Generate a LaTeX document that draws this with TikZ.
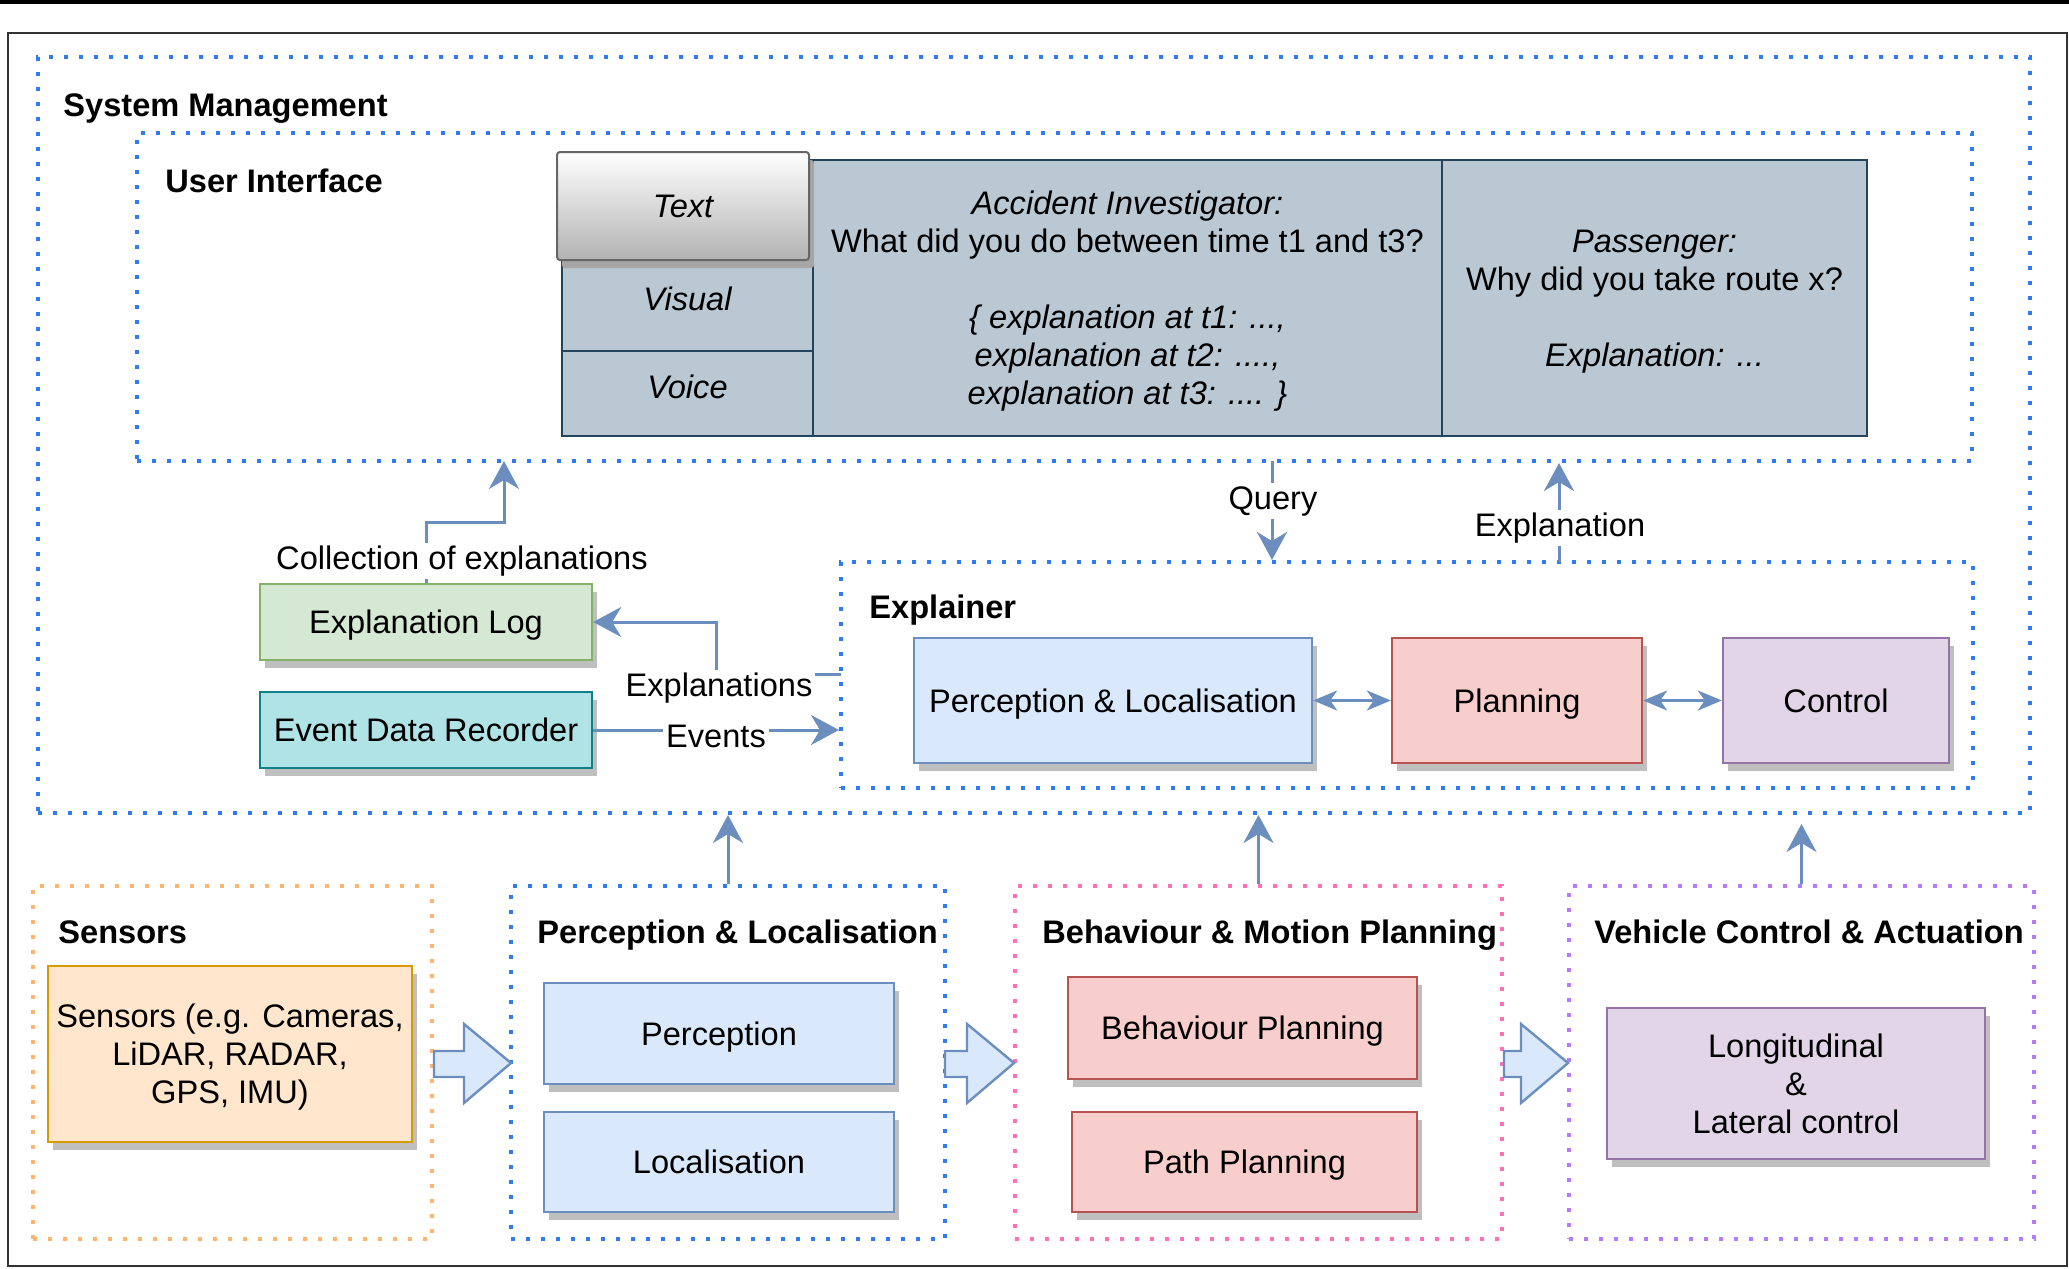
\documentclass[tikz,border=0pt]{standalone}
\usepackage{fontspec}
\setmainfont{Liberation Sans}
\usetikzlibrary{arrows.meta,shadows}
\definecolor{lineblue}{HTML}{6C8EBF}
\definecolor{bfill}{HTML}{DAE8FC}\definecolor{bstroke}{HTML}{6C8EBF}
\definecolor{rfill}{HTML}{F8CECC}\definecolor{rstroke}{HTML}{B85450}
\definecolor{pfill}{HTML}{E1D5E7}\definecolor{pstroke}{HTML}{9673A6}
\definecolor{gfill}{HTML}{D5E8D4}\definecolor{gstroke}{HTML}{82B366}
\definecolor{tfill}{HTML}{B0E3E6}\definecolor{tstroke}{HTML}{0E8088}
\definecolor{ofill}{HTML}{FFE6CC}\definecolor{ostroke}{HTML}{D79B00}
\definecolor{uifill}{HTML}{BAC8D3}\definecolor{uistroke}{HTML}{23445D}
\definecolor{dblue}{HTML}{2F7CF0}
\definecolor{dorange}{HTML}{FFB570}
\definecolor{dpink}{HTML}{FF70B8}
\definecolor{dpurple}{HTML}{B57BFF}
\definecolor{framec}{HTML}{333333}
\begin{document}
\begin{tikzpicture}[x=0.5pt,y=-0.5pt,
  font=\fontsize{16.3}{18.75}\selectfont,
  box/.style={draw, line width=1.2pt, inner sep=0pt, align=center, text depth=0pt,
    font=\fontsize{16.3}{19}\selectfont,
    drop shadow={shadow xshift=2.5pt, shadow yshift=-4pt, fill=black!25, opacity=1}},
  bluebox/.style={box, fill=bfill, draw=bstroke},
  redbox/.style={box, fill=rfill, draw=rstroke},
  purplebox/.style={box, fill=pfill, draw=pstroke},
  grp/.style={line width=2pt, dash pattern=on 2pt off 5.5pt, inner sep=0pt},
  ttl/.style={font=\fontsize{16.3}{18.75}\selectfont\bfseries, anchor=base west, inner sep=0pt},
  uicell/.style={draw=uistroke, fill=uifill, line width=1pt, inner sep=0pt, align=center,
    font=\fontsize{16.3}{19}\selectfont\itshape},
  textbtn/.style={draw=black!60, line width=1pt, rounded corners=1.5pt, top color=white,
    bottom color=black!30, inner sep=0pt,
    font=\fontsize{16.3}{18.75}\selectfont\itshape,
    drop shadow={shadow xshift=2.5pt, shadow yshift=-4pt, fill=black!35, opacity=1}},
  lbl/.style={fill=white, inner sep=1.5pt},
  arr/.style={draw=lineblue, line width=1.5pt, -{Stealth[length=14pt, width=15pt, inset=4.5pt]}},
  dbl/.style={draw=lineblue, line width=1.5pt,
    {Stealth[length=12pt, width=10pt, inset=3.5pt]}-{Stealth[length=12pt, width=10pt, inset=3.5pt]}},
  bigarr/.style={draw=bstroke, fill=bfill, line width=1.2pt, line join=miter}
]
\useasboundingbox (0,0) rectangle (2069,1269);
% outer frame
\fill[black] (0,0) rectangle (2069,3.5);
\draw[draw=framec, line width=1.2pt] (8,33) rectangle (2067,1266);

% dotted containers
\node[grp, draw=dblue, minimum width=996pt, minimum height=378pt] (sm) at (1034,435) {};
\node[grp, draw=dblue, minimum width=917.5pt, minimum height=164pt] (ui) at (1054.5,297) {};
\node[grp, draw=dblue, minimum width=566pt, minimum height=113pt] (expl) at (1407,675) {};
\node[grp, draw=dorange, minimum width=199.5pt, minimum height=176.5pt] (gsens) at (232.5,1062.5) {};
\node[grp, draw=dblue, minimum width=217pt, minimum height=176.5pt] (gpl) at (728,1062.5) {};
\node[grp, draw=dpink, minimum width=243.5pt, minimum height=176.5pt] (gbmp) at (1258.5,1062.5) {};
\node[grp, draw=dpurple, minimum width=232.5pt, minimum height=176.5pt] (gvca) at (1801.5,1062.5) {};

% titles
\node[ttl] (tsm) at (63,116) {System Management};
\node[ttl] (tui) at (165,192) {User Interface};
\node[ttl] (texpl) at (869,618) {Explainer};
\node[ttl] (tsens) at (58,943) {Sensors};
\node[ttl] (tpl) at (537,943) {Perception \& Localisation};
\node[ttl] (tbmp) at (1042,943) {Behaviour \& Motion Planning};
\node[ttl] (tvca) at (1594,943) {Vehicle Control \& Actuation};

% user interface table
\node[uicell, minimum width=125.5pt, minimum height=138pt] (uicol) at (687.5,298) {};
\node[uicell, minimum width=125.5pt, minimum height=45.5pt, text depth=7pt] (visual) at (687.5,305.5) {Visual};
\node[uicell, minimum width=125.5pt, minimum height=42.5pt, text depth=7pt] (voice) at (687.5,393.5) {Voice};
\node[uicell, minimum width=314.5pt, minimum height=138pt, text depth=0pt] (acc) at (1127.5,298)
  {Accident Investigator:\\{\upshape What did you do between time t1 and t3?}\\[19pt]\{ explanation at t1: ...,\\explanation at t2: ....,\\explanation at t3: .... \}};
\node[uicell, minimum width=212.5pt, minimum height=138pt, text depth=0pt] (pass) at (1654.5,298)
  {Passenger:\\{\upshape Why did you take route x?}\\[19pt]Explanation: ...};
\node[textbtn, minimum width=126pt, minimum height=54pt] (tbtn) at (683,206) {Text};

% middle boxes
\node[box, fill=gfill, draw=gstroke, minimum width=166pt, minimum height=38pt] (el) at (426,622) {Explanation Log};
\node[box, fill=tfill, draw=tstroke, minimum width=166pt, minimum height=38pt] (edr) at (426,730) {Event Data Recorder};
\node[bluebox, minimum width=199pt, minimum height=62.5pt] (epl) at (1113,700.5) {Perception \& Localisation};
\node[redbox, minimum width=125pt, minimum height=62.5pt] (eplan) at (1517,700.5) {Planning};
\node[purplebox, minimum width=113pt, minimum height=62.5pt] (ectrl) at (1836,700.5) {Control};

% bottom boxes
\node[box, fill=ofill, draw=ostroke, minimum width=182pt, minimum height=88pt] (sens) at (230,1054)
  {Sensors (e.g. Cameras,\\LiDAR, RADAR,\\GPS, IMU)};
\node[bluebox, minimum width=175pt, minimum height=50.5pt] (perc) at (719,1033.5) {Perception};
\node[bluebox, minimum width=175pt, minimum height=50pt] (loc) at (719,1162) {Localisation};
\node[redbox, minimum width=174.5pt, minimum height=51pt] (bp) at (1242.5,1028) {Behaviour Planning};
\node[redbox, minimum width=172.5pt, minimum height=50pt] (pp) at (1244.5,1162) {Path Planning};
\node[purplebox, minimum width=189pt, minimum height=75.5pt] (lon) at (1796,1083.5) {Longitudinal\\\&\\Lateral control};

% big hollow arrows
\draw[bigarr] (434,1051) -- (464,1051) -- (464,1024) -- (511,1063) -- (464,1103) -- (464,1077) -- (434,1077) -- cycle;
\draw[bigarr] (945,1051) -- (967,1051) -- (967,1024) -- (1014,1063) -- (967,1103) -- (967,1077) -- (945,1077) -- cycle;
\draw[bigarr] (1504,1051) -- (1521,1051) -- (1521,1024) -- (1568,1063) -- (1521,1103) -- (1521,1077) -- (1504,1077) -- cycle;

% coordinates
\coordinate (uiA) at (504,461);
\coordinate (c1) at (504,522);
\coordinate (eX) at (841,674);
\coordinate (c2) at (716,622);
\coordinate (q1) at (1272,461);
\coordinate (e1) at (1559,562);

% connectors
\draw[arr] (el.north) |- (c1) -- (uiA);
\draw[arr] (eX) -| (c2) -- (el.east);
\draw[arr] (edr.east) -- (edr.east -| expl.west);
\draw[arr] (q1) -- (q1 |- expl.north);
\draw[arr] (e1) -- (e1 |- ui.south);
\draw[dbl] (epl.east) -- (eplan.west);
\draw[dbl] (eplan.east) -- (ectrl.west);
\draw[arr] (gpl.north) -- (gpl.north |- sm.south);
\draw[arr] (gbmp.north) -- (gbmp.north |- sm.south);
\draw[arr] (gvca.north) -- ++(0,-60);

% connector labels
\node[lbl] (lcoll) at (462,561) {Collection of explanations};
\node[lbl] (lexpls) at (719,688) {Explanations};
\node[lbl] (levents) at (716,736) {Events};
\node[lbl] (lquery) at (1273,501) {Query};
\node[lbl] (lexpl) at (1560,528) {Explanation};
\end{tikzpicture}
\end{document}
